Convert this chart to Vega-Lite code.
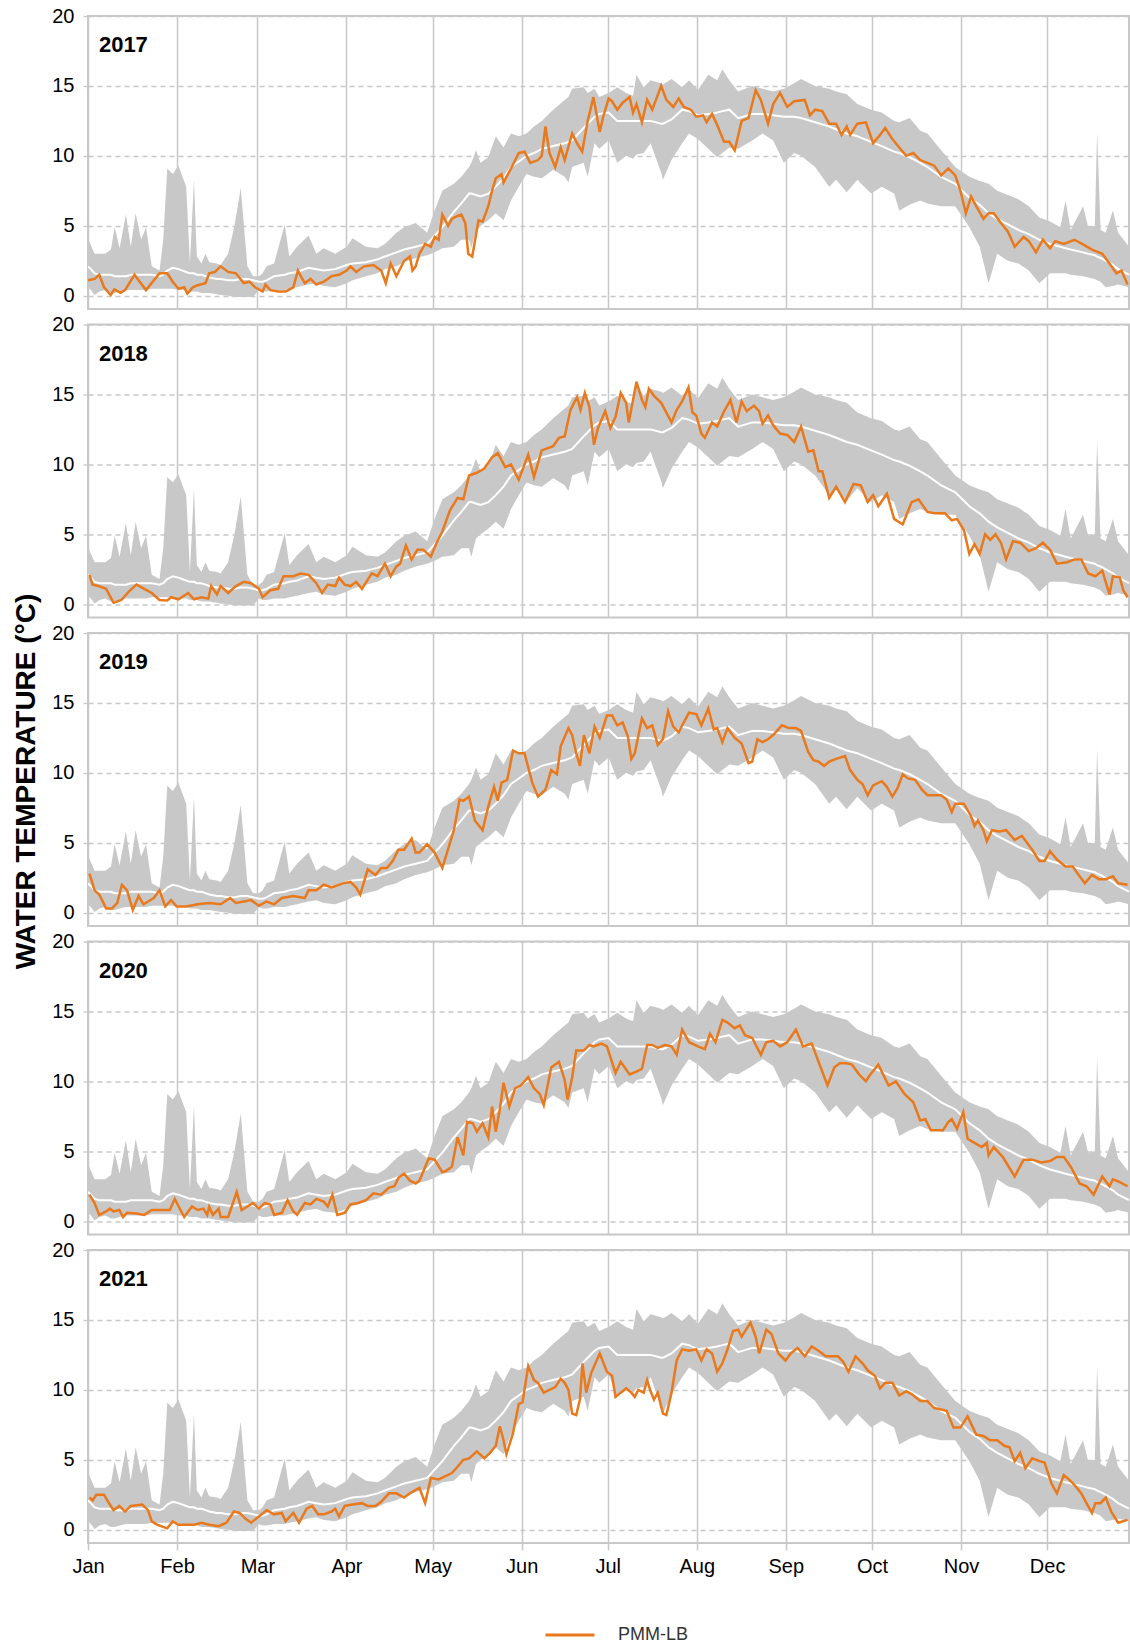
{
"$schema": "https://vega.github.io/schema/vega-lite/v6.json",
"background": "white",
"padding": {"left": 12, "top": 5, "right": 0, "bottom": 4},
"spacing": 15.5,
"bounds": "flush",
"title": {"text": "WATER TEMPERATURE (°C)", "orient": "left", "anchor": "middle", "font": "Liberation Sans", "fontSize": 28, "fontWeight": "bold", "color": "#000", "offset": 10, "dx": 43},
"datasets": {
"clim": [
{"d":0,"hi":4.1,"lo":0.6,"m":2.1},{"d":1,"hi":3.6,"lo":0.4,"m":1.9},{"d":2.3,"hi":3.0,"lo":0.05,"m":1.6},{"d":4,"hi":3.0,"lo":0.3,"m":1.5},{"d":6,"hi":3.0,"lo":0.4,"m":1.5},{"d":8,"hi":3.3,"lo":0.2,"m":1.5},{"d":9.3,"hi":4.9,"lo":0.2,"m":1.4},{"d":11,"hi":3.4,"lo":0.3,"m":1.4},{"d":13.2,"hi":5.8,"lo":0.4,"m":1.4},{"d":14.9,"hi":3.5,"lo":0.4,"m":1.5},{"d":16.6,"hi":5.9,"lo":0.4,"m":1.5},{"d":18.5,"hi":4.0,"lo":0.4,"m":1.5},{"d":20.2,"hi":4.9,"lo":0.4,"m":1.5},{"d":22.2,"hi":2.1,"lo":0.5,"m":1.5},{"d":24.9,"hi":1.8,"lo":0.5,"m":1.4},{"d":26.2,"hi":4.0,"lo":0.5,"m":1.5},{"d":27.6,"hi":9.1,"lo":0.5,"m":1.8},{"d":29.5,"hi":8.7,"lo":0.5,"m":2.0},{"d":31.5,"hi":9.3,"lo":0.4,"m":1.9},{"d":34.2,"hi":7.8,"lo":0.4,"m":1.7},{"d":35.5,"hi":2.3,"lo":0.3,"m":1.6},{"d":36.9,"hi":8.3,"lo":0.3,"m":1.6},{"d":37.9,"hi":2.8,"lo":0.3,"m":1.5},{"d":39.5,"hi":2.3,"lo":0.2,"m":1.5},{"d":40.9,"hi":3.0,"lo":0.2,"m":1.4},{"d":42.2,"hi":2.4,"lo":0.2,"m":1.3},{"d":44.9,"hi":2.3,"lo":0.1,"m":1.2},{"d":46.2,"hi":2.2,"lo":0.05,"m":1.2},{"d":48.8,"hi":3.0,"lo":0,"m":1.1},{"d":51,"hi":5.0,"lo":-0.1,"m":1.1},{"d":53.2,"hi":7.7,"lo":-0.1,"m":1.2},{"d":55.5,"hi":2.1,"lo":-0.1,"m":1.2},{"d":57.5,"hi":1.4,"lo":-0.1,"m":1.1},{"d":59.5,"hi":1.4,"lo":0.4,"m":1.0},{"d":60.8,"hi":1.6,"lo":0.3,"m":1.0},{"d":62.2,"hi":2.1,"lo":0.3,"m":1.1},{"d":64.8,"hi":2.3,"lo":0.4,"m":1.4},{"d":68.5,"hi":5.1,"lo":0.4,"m":1.5},{"d":70.1,"hi":2.8,"lo":0.5,"m":1.6},{"d":72.8,"hi":3.5,"lo":0.6,"m":1.7},{"d":76.8,"hi":4.3,"lo":0.8,"m":2.0},{"d":79.5,"hi":3.0,"lo":0.9,"m":1.9},{"d":82.1,"hi":3.4,"lo":0.7,"m":1.8},{"d":86.1,"hi":3.0,"lo":0.6,"m":1.9},{"d":90.1,"hi":3.5,"lo":0.9,"m":2.2},{"d":92.1,"hi":4.1,"lo":1.1,"m":2.3},{"d":96.8,"hi":3.5,"lo":1.4,"m":2.4},{"d":100.8,"hi":3.4,"lo":1.6,"m":2.6},{"d":103.4,"hi":3.7,"lo":1.9,"m":2.8},{"d":107.4,"hi":4.5,"lo":2.1,"m":3.1},{"d":110.1,"hi":4.9,"lo":2.4,"m":3.3},{"d":114.1,"hi":5.2,"lo":2.7,"m":3.5},{"d":118.1,"hi":4.5,"lo":2.9,"m":3.7},{"d":120.7,"hi":6.1,"lo":3.1,"m":4.3},{"d":123.4,"hi":7.5,"lo":3.4,"m":4.9},{"d":127.4,"hi":8.0,"lo":3.5,"m":6.0},{"d":130,"hi":8.5,"lo":4.0,"m":6.6},{"d":132.7,"hi":9.2,"lo":4.0,"m":7.3},{"d":133.5,"hi":9.5,"lo":3.4,"m":7.3},{"d":135.1,"hi":10.4,"lo":4.7,"m":7.2},{"d":136.7,"hi":9.5,"lo":5.0,"m":7.1},{"d":139.4,"hi":9.9,"lo":5.4,"m":7.3},{"d":142,"hi":11.4,"lo":5.9,"m":7.8},{"d":144.7,"hi":10.6,"lo":5.4,"m":8.4},{"d":147.3,"hi":11.6,"lo":6.8,"m":9.2},{"d":150,"hi":11.4,"lo":7.8,"m":9.6},{"d":152.7,"hi":11.6,"lo":8.7,"m":10.0},{"d":155.3,"hi":12.1,"lo":8.5,"m":10.2},{"d":158,"hi":12.5,"lo":8.4,"m":10.5},{"d":162,"hi":13.3,"lo":9.0,"m":10.7},{"d":166,"hi":14.0,"lo":8.5,"m":10.9},{"d":167.3,"hi":14.2,"lo":8.1,"m":11.0},{"d":168.6,"hi":14.8,"lo":9.2,"m":11.1},{"d":172.6,"hi":14.9,"lo":9.5,"m":12.0},{"d":174,"hi":14.5,"lo":8.5,"m":12.3},{"d":176.4,"hi":14.8,"lo":10.9,"m":12.8},{"d":178,"hi":14.2,"lo":10.5,"m":13.0},{"d":181.3,"hi":14.5,"lo":11.1,"m":13.1},{"d":184.3,"hi":14.9,"lo":9.5,"m":12.5},{"d":187.4,"hi":14.5,"lo":10.0,"m":12.5},{"d":189.8,"hi":14.3,"lo":9.8,"m":12.5},{"d":191,"hi":15.8,"lo":10.1,"m":12.5},{"d":193.5,"hi":14.9,"lo":10.2,"m":12.5},{"d":195.9,"hi":15.4,"lo":10.9,"m":12.5},{"d":199.6,"hi":15.2,"lo":8.8,"m":12.3},{"d":200.2,"hi":15.1,"lo":8.3,"m":12.3},{"d":203.2,"hi":15.5,"lo":9.7,"m":12.6},{"d":206.9,"hi":14.9,"lo":10.9,"m":13.3},{"d":209.3,"hi":15.4,"lo":11.6,"m":13.2},{"d":212.4,"hi":14.7,"lo":11.2,"m":12.9},{"d":216,"hi":15.8,"lo":10.5,"m":13.0},{"d":219.1,"hi":15.4,"lo":9.9,"m":13.1},{"d":220.9,"hi":16.2,"lo":10.2,"m":13.2},{"d":223.3,"hi":15.4,"lo":10.6,"m":13.3},{"d":226.4,"hi":14.6,"lo":10.5,"m":12.7},{"d":231.3,"hi":15.0,"lo":11.1,"m":13.0},{"d":234.9,"hi":14.8,"lo":11.6,"m":13.0},{"d":238.6,"hi":14.6,"lo":11.1,"m":12.9},{"d":242.3,"hi":14.8,"lo":9.5,"m":12.8},{"d":245.9,"hi":15.2,"lo":10.2,"m":12.8},{"d":248.3,"hi":15.5,"lo":10.0,"m":12.7},{"d":253.2,"hi":15.0,"lo":9.2,"m":12.4},{"d":258.1,"hi":14.8,"lo":7.8,"m":12.1},{"d":260.5,"hi":14.6,"lo":8.3,"m":11.9},{"d":264.2,"hi":14.4,"lo":7.4,"m":11.6},{"d":267.9,"hi":13.7,"lo":8.3,"m":11.4},{"d":272.7,"hi":13.3,"lo":7.3,"m":11.0},{"d":276.4,"hi":13.1,"lo":7.8,"m":10.7},{"d":280.7,"hi":12.5,"lo":7.3,"m":10.3},{"d":282.5,"hi":12.4,"lo":6.1,"m":10.2},{"d":286.1,"hi":12.7,"lo":6.5,"m":9.9},{"d":289.8,"hi":11.8,"lo":6.8,"m":9.5},{"d":292.3,"hi":11.6,"lo":6.6,"m":9.2},{"d":297.1,"hi":10.4,"lo":6.4,"m":8.5},{"d":302,"hi":9.2,"lo":6.4,"m":8.0},{"d":306.9,"hi":8.5,"lo":4.9,"m":7.0},{"d":310.5,"hi":8.2,"lo":3.5,"m":6.5},{"d":313.6,"hi":8.0,"lo":0.9,"m":5.9},{"d":316.6,"hi":7.5,"lo":3.0,"m":5.5},{"d":320.3,"hi":7.2,"lo":2.5,"m":5.1},{"d":324,"hi":6.9,"lo":2.3,"m":4.7},{"d":327.6,"hi":6.4,"lo":1.8,"m":4.4},{"d":331.3,"hi":5.6,"lo":0.9,"m":4.0},{"d":335,"hi":5.3,"lo":1.6,"m":3.7},{"d":338.6,"hi":4.9,"lo":1.6,"m":3.5},{"d":340.4,"hi":6.8,"lo":1.6,"m":3.4},{"d":342.2,"hi":4.7,"lo":1.5,"m":3.3},{"d":346.5,"hi":6.4,"lo":1.4,"m":3.1},{"d":348.3,"hi":4.9,"lo":1.3,"m":3.0},{"d":350.6,"hi":5.0,"lo":1.2,"m":2.9},{"d":351.4,"hi":11.7,"lo":1.1,"m":2.8},{"d":352.6,"hi":4.7,"lo":1.0,"m":2.7},{"d":354.4,"hi":4.5,"lo":0.6,"m":2.5},{"d":356.9,"hi":6.1,"lo":0.7,"m":2.2},{"d":358.7,"hi":4.5,"lo":0.8,"m":1.9},{"d":362.5,"hi":3.5,"lo":0.6,"m":1.5}
],
"o2017": [
{"d":0,"t":1.1},{"d":2.3,"t":1.2},{"d":3.9,"t":1.5},{"d":5.6,"t":0.6},{"d":7.9,"t":0.05},{"d":9.2,"t":0.45},{"d":11.3,"t":0.2},{"d":12.9,"t":0.4},{"d":16.2,"t":1.5},{"d":18,"t":1.0},{"d":20.2,"t":0.4},{"d":22.5,"t":1.0},{"d":24.9,"t":1.6},{"d":27.6,"t":1.6},{"d":29.5,"t":1.0},{"d":31.5,"t":0.5},{"d":33.5,"t":0.6},{"d":34.6,"t":0.15},{"d":36.5,"t":0.6},{"d":38.2,"t":0.75},{"d":40.9,"t":0.9},{"d":42.2,"t":1.6},{"d":44.2,"t":1.7},{"d":46.2,"t":2.1},{"d":48.8,"t":1.7},{"d":51.5,"t":1.6},{"d":54.2,"t":0.9},{"d":56.2,"t":1.0},{"d":58.2,"t":0.6},{"d":60.8,"t":0.3},{"d":61.8,"t":0.8},{"d":63.5,"t":0.4},{"d":66.2,"t":0.3},{"d":68.8,"t":0.3},{"d":71.5,"t":0.6},{"d":73.1,"t":1.8},{"d":74.1,"t":1.4},{"d":75.5,"t":0.9},{"d":77.5,"t":1.2},{"d":79.5,"t":0.8},{"d":82.1,"t":1.0},{"d":84.8,"t":1.4},{"d":87.4,"t":1.5},{"d":90.1,"t":1.8},{"d":91.4,"t":2.1},{"d":93.4,"t":1.7},{"d":96.1,"t":2.1},{"d":99.4,"t":2.2},{"d":102.1,"t":1.8},{"d":103.7,"t":0.9},{"d":105.4,"t":2.3},{"d":107.4,"t":1.4},{"d":110.1,"t":2.5},{"d":112.1,"t":2.8},{"d":113,"t":1.8},{"d":114.1,"t":2.1},{"d":115.4,"t":3.0},{"d":117.4,"t":3.7},{"d":119.4,"t":3.5},{"d":120.7,"t":4.2},{"d":122.1,"t":4.0},{"d":123.4,"t":5.8},{"d":125.4,"t":5.0},{"d":126.7,"t":5.5},{"d":128.7,"t":5.7},{"d":130,"t":5.8},{"d":131.4,"t":5.2},{"d":132.4,"t":3.0},{"d":133.8,"t":2.8},{"d":136,"t":5.4},{"d":137.4,"t":5.3},{"d":139.4,"t":6.4},{"d":140.7,"t":7.5},{"d":142,"t":8.4},{"d":144,"t":8.7},{"d":144.7,"t":8.1},{"d":147.3,"t":9.1},{"d":150,"t":10.2},{"d":152,"t":10.3},{"d":154,"t":9.5},{"d":156.7,"t":9.7},{"d":158,"t":10.0},{"d":159.3,"t":12.1},{"d":160.7,"t":10.2},{"d":162.7,"t":9.2},{"d":164.6,"t":10.6},{"d":166,"t":9.7},{"d":168.6,"t":11.6},{"d":170.3,"t":10.9},{"d":172.1,"t":10.3},{"d":174,"t":12.5},{"d":176,"t":14.2},{"d":178.2,"t":11.7},{"d":179.4,"t":12.8},{"d":181.3,"t":14.1},{"d":182.5,"t":13.9},{"d":184.3,"t":13.3},{"d":186.2,"t":13.8},{"d":188.6,"t":14.2},{"d":189.8,"t":13.1},{"d":191,"t":13.7},{"d":192.9,"t":12.4},{"d":194.7,"t":14.0},{"d":196.5,"t":13.3},{"d":199.6,"t":15.0},{"d":201.4,"t":14.0},{"d":203.8,"t":13.5},{"d":205.7,"t":14.1},{"d":207.5,"t":13.5},{"d":209.9,"t":13.3},{"d":211.8,"t":12.8},{"d":214.2,"t":12.9},{"d":215.4,"t":12.4},{"d":217.3,"t":13.0},{"d":219.1,"t":12.2},{"d":221.5,"t":11.0},{"d":223.3,"t":11.0},{"d":225.2,"t":10.4},{"d":227.6,"t":12.5},{"d":230,"t":12.7},{"d":232.5,"t":14.7},{"d":234.3,"t":14.0},{"d":236.8,"t":12.3},{"d":238.6,"t":13.7},{"d":241,"t":14.5},{"d":243.5,"t":13.5},{"d":245.9,"t":13.9},{"d":249.6,"t":14.0},{"d":251.4,"t":12.9},{"d":253.2,"t":13.3},{"d":255.7,"t":13.2},{"d":258.1,"t":12.3},{"d":260.5,"t":12.3},{"d":262.4,"t":11.5},{"d":264.2,"t":12.1},{"d":265.4,"t":11.5},{"d":267.9,"t":12.3},{"d":270.9,"t":12.4},{"d":273.4,"t":10.9},{"d":275.8,"t":11.5},{"d":277.6,"t":12.0},{"d":280.1,"t":11.2},{"d":282.5,"t":10.6},{"d":284.9,"t":10.0},{"d":287.4,"t":10.2},{"d":289.8,"t":9.7},{"d":292.3,"t":9.5},{"d":294.7,"t":9.3},{"d":297.1,"t":8.6},{"d":299.6,"t":9.1},{"d":302,"t":8.6},{"d":303.8,"t":7.5},{"d":305.7,"t":5.9},{"d":307.5,"t":7.1},{"d":309.3,"t":6.4},{"d":311.8,"t":5.5},{"d":313.6,"t":5.9},{"d":315.4,"t":5.9},{"d":317.9,"t":5.2},{"d":320.3,"t":4.6},{"d":322.7,"t":3.5},{"d":325.8,"t":4.2},{"d":327.6,"t":3.9},{"d":330.1,"t":3.1},{"d":332.5,"t":4.0},{"d":335,"t":3.4},{"d":336.8,"t":3.9},{"d":339.8,"t":3.7},{"d":343.5,"t":4.0},{"d":347.1,"t":3.6},{"d":349.6,"t":3.3},{"d":353.2,"t":3.0},{"d":355.7,"t":2.3},{"d":358.1,"t":1.6},{"d":359.9,"t":1.8},{"d":362,"t":0.8}
],
"o2018": [
{"d":0.5,"t":2.1},{"d":1.6,"t":1.4},{"d":3.6,"t":1.3},{"d":6.3,"t":1.1},{"d":8.9,"t":0.1},{"d":11.6,"t":0.3},{"d":14.2,"t":0.9},{"d":16.9,"t":1.4},{"d":19.6,"t":1.1},{"d":22.2,"t":0.8},{"d":24.9,"t":0.3},{"d":27.6,"t":0.26},{"d":28.9,"t":0.5},{"d":31.5,"t":0.35},{"d":34.9,"t":0.8},{"d":36.9,"t":0.35},{"d":39.5,"t":0.5},{"d":41.9,"t":0.4},{"d":42.9,"t":1.3},{"d":44.9,"t":0.7},{"d":46.2,"t":1.3},{"d":48.8,"t":0.8},{"d":51.5,"t":1.3},{"d":54.2,"t":1.6},{"d":56.8,"t":1.5},{"d":59.5,"t":1.1},{"d":60.8,"t":0.5},{"d":63.5,"t":1.0},{"d":66.2,"t":1.1},{"d":68.1,"t":2.0},{"d":71.5,"t":2.0},{"d":74.1,"t":2.2},{"d":76.8,"t":2.1},{"d":79.5,"t":1.5},{"d":81.5,"t":0.8},{"d":83.5,"t":1.4},{"d":86.1,"t":1.3},{"d":87.4,"t":1.9},{"d":89.4,"t":1.4},{"d":91.4,"t":1.3},{"d":93.4,"t":1.6},{"d":95.4,"t":1.1},{"d":98.8,"t":2.2},{"d":100.8,"t":2.0},{"d":103.4,"t":2.9},{"d":105.4,"t":2.0},{"d":107.4,"t":2.7},{"d":108.7,"t":2.9},{"d":110.7,"t":4.2},{"d":112.7,"t":3.2},{"d":114.7,"t":3.9},{"d":116.7,"t":3.9},{"d":119.4,"t":3.4},{"d":121.4,"t":4.4},{"d":123.4,"t":5.2},{"d":126,"t":6.7},{"d":128.7,"t":7.6},{"d":130.7,"t":7.5},{"d":132.7,"t":9.2},{"d":135.4,"t":9.4},{"d":138,"t":9.7},{"d":140.7,"t":10.5},{"d":142.7,"t":10.8},{"d":145.3,"t":9.8},{"d":147.3,"t":10.0},{"d":150,"t":8.9},{"d":153.3,"t":10.7},{"d":155.3,"t":9.1},{"d":158,"t":11.0},{"d":162,"t":11.3},{"d":164,"t":11.9},{"d":166,"t":12.0},{"d":168,"t":13.9},{"d":170.3,"t":14.8},{"d":171.5,"t":13.9},{"d":173,"t":15.1},{"d":174.6,"t":14.1},{"d":176.2,"t":11.4},{"d":177.6,"t":12.6},{"d":180.1,"t":13.8},{"d":181.9,"t":12.6},{"d":183.7,"t":13.4},{"d":185.5,"t":15.1},{"d":187.4,"t":14.4},{"d":188.3,"t":13.0},{"d":189.8,"t":14.6},{"d":191,"t":15.9},{"d":192.9,"t":14.6},{"d":194.1,"t":14.1},{"d":195.3,"t":15.4},{"d":197.1,"t":14.9},{"d":199.6,"t":14.4},{"d":201.4,"t":13.7},{"d":203.2,"t":13.0},{"d":205,"t":13.9},{"d":206.9,"t":14.5},{"d":209.1,"t":15.5},{"d":210.5,"t":13.7},{"d":211.8,"t":13.5},{"d":213.6,"t":12.2},{"d":214.8,"t":11.9},{"d":217.3,"t":13.0},{"d":219.1,"t":12.7},{"d":221.5,"t":13.8},{"d":223.7,"t":14.6},{"d":225.8,"t":13.0},{"d":227.6,"t":14.5},{"d":229.4,"t":13.8},{"d":231.9,"t":14.2},{"d":233.7,"t":13.8},{"d":234.9,"t":12.9},{"d":236.8,"t":13.5},{"d":238.6,"t":12.8},{"d":241,"t":12.2},{"d":243.5,"t":12.1},{"d":245.9,"t":11.6},{"d":248.3,"t":12.7},{"d":250.8,"t":10.9},{"d":252.6,"t":11.0},{"d":254.4,"t":9.5},{"d":255.7,"t":9.5},{"d":258.1,"t":7.6},{"d":260.5,"t":8.4},{"d":263.6,"t":7.3},{"d":266.6,"t":8.6},{"d":269.1,"t":8.5},{"d":271.5,"t":7.3},{"d":273.4,"t":7.8},{"d":275.2,"t":7.0},{"d":278.2,"t":7.9},{"d":280.7,"t":6.1},{"d":283.7,"t":5.7},{"d":286.8,"t":7.3},{"d":289.2,"t":7.5},{"d":292.3,"t":6.6},{"d":294.7,"t":6.5},{"d":298.4,"t":6.5},{"d":300.8,"t":6.0},{"d":302.6,"t":6.1},{"d":305,"t":5.3},{"d":306.9,"t":3.6},{"d":308.7,"t":4.3},{"d":310.5,"t":3.6},{"d":312.4,"t":5.0},{"d":314.2,"t":4.6},{"d":316,"t":5.0},{"d":317.9,"t":4.4},{"d":319.7,"t":3.2},{"d":322.1,"t":4.5},{"d":324.6,"t":4.4},{"d":327.6,"t":3.8},{"d":330.1,"t":4.0},{"d":332.5,"t":4.4},{"d":335,"t":3.9},{"d":337.4,"t":2.9},{"d":341,"t":3.0},{"d":343.5,"t":3.2},{"d":345.9,"t":3.2},{"d":348.3,"t":2.2},{"d":350.8,"t":2.0},{"d":353.2,"t":2.4},{"d":355.7,"t":0.7},{"d":356.9,"t":2.0},{"d":359.3,"t":1.9},{"d":360.5,"t":1.0},{"d":362,"t":0.5}
],
"o2019": [
{"d":0.5,"t":2.8},{"d":2.3,"t":1.6},{"d":3.9,"t":1.3},{"d":4.9,"t":0.9},{"d":6.3,"t":0.3},{"d":8.3,"t":0.3},{"d":10.2,"t":0.7},{"d":11.8,"t":2.0},{"d":13.6,"t":1.6},{"d":15.6,"t":0.2},{"d":17.6,"t":1.2},{"d":19.3,"t":0.6},{"d":20.9,"t":0.8},{"d":22.9,"t":1.05},{"d":24.9,"t":1.6},{"d":26.9,"t":0.45},{"d":28.9,"t":0.9},{"d":30.9,"t":0.45},{"d":34.2,"t":0.45},{"d":38.2,"t":0.6},{"d":42.2,"t":0.7},{"d":46.2,"t":0.6},{"d":49.5,"t":1.05},{"d":51.5,"t":0.7},{"d":54.2,"t":0.8},{"d":56.8,"t":0.9},{"d":59.5,"t":0.5},{"d":62.2,"t":0.8},{"d":64.8,"t":0.6},{"d":67.5,"t":1.05},{"d":71.5,"t":1.2},{"d":75.5,"t":1.05},{"d":76.8,"t":1.6},{"d":79.5,"t":1.6},{"d":82.1,"t":2.0},{"d":84.8,"t":1.8},{"d":88.8,"t":2.1},{"d":91.4,"t":2.2},{"d":93.4,"t":1.8},{"d":94.8,"t":1.3},{"d":97.4,"t":3.1},{"d":100.1,"t":2.7},{"d":102.1,"t":3.2},{"d":104.1,"t":3.2},{"d":106.1,"t":3.7},{"d":108.1,"t":4.5},{"d":110.1,"t":4.5},{"d":112.7,"t":5.3},{"d":114.1,"t":4.3},{"d":115.4,"t":4.3},{"d":118.1,"t":4.9},{"d":120.7,"t":4.3},{"d":123.4,"t":3.2},{"d":127.4,"t":5.9},{"d":129.4,"t":8.1},{"d":130.7,"t":8.0},{"d":132.7,"t":8.3},{"d":134.7,"t":6.6},{"d":137.4,"t":5.9},{"d":139.4,"t":7.6},{"d":141.4,"t":9.0},{"d":142.7,"t":8.0},{"d":144,"t":9.3},{"d":146,"t":9.5},{"d":148,"t":11.6},{"d":150,"t":11.4},{"d":152,"t":11.4},{"d":154.7,"t":9.3},{"d":156.7,"t":8.3},{"d":159.3,"t":8.8},{"d":161.3,"t":10.2},{"d":163.3,"t":9.9},{"d":164.6,"t":11.9},{"d":167.3,"t":13.2},{"d":168.6,"t":12.7},{"d":170,"t":11.4},{"d":171.3,"t":10.5},{"d":172.7,"t":12.7},{"d":174.6,"t":11.4},{"d":176.4,"t":13.3},{"d":178.2,"t":12.5},{"d":180.7,"t":14.1},{"d":182.5,"t":14.1},{"d":184.3,"t":13.4},{"d":186.2,"t":13.6},{"d":188,"t":12.6},{"d":189.2,"t":11.0},{"d":190.4,"t":11.4},{"d":192.9,"t":13.9},{"d":194.7,"t":13.2},{"d":196.5,"t":13.4},{"d":198.4,"t":12.0},{"d":200.2,"t":12.4},{"d":202,"t":14.4},{"d":203.8,"t":13.3},{"d":205.7,"t":12.9},{"d":206.9,"t":13.4},{"d":209.3,"t":14.3},{"d":211.8,"t":14.2},{"d":213.6,"t":13.4},{"d":216,"t":14.6},{"d":217.9,"t":13.1},{"d":219.1,"t":13.2},{"d":220.9,"t":12.2},{"d":222.7,"t":13.2},{"d":225.2,"t":12.5},{"d":227.6,"t":12.1},{"d":230,"t":10.7},{"d":231.3,"t":10.8},{"d":233.1,"t":12.4},{"d":234.9,"t":12.2},{"d":236.8,"t":12.4},{"d":238.6,"t":12.7},{"d":241.6,"t":13.4},{"d":244.1,"t":13.2},{"d":246.5,"t":13.2},{"d":248.3,"t":13.0},{"d":250.8,"t":11.5},{"d":252.6,"t":10.9},{"d":254.4,"t":10.8},{"d":256.3,"t":10.5},{"d":258.1,"t":10.8},{"d":260.5,"t":11.0},{"d":263.6,"t":11.2},{"d":265.4,"t":10.2},{"d":267.9,"t":9.5},{"d":269.7,"t":9.2},{"d":271.5,"t":8.4},{"d":273.4,"t":9.1},{"d":276.4,"t":9.4},{"d":278.2,"t":9.0},{"d":280.1,"t":8.3},{"d":281.9,"t":8.9},{"d":283.7,"t":9.9},{"d":285.5,"t":9.6},{"d":288,"t":9.5},{"d":290.4,"t":8.8},{"d":292.3,"t":8.4},{"d":294.7,"t":8.4},{"d":297.1,"t":8.4},{"d":299,"t":8.1},{"d":300.8,"t":7.2},{"d":302,"t":7.8},{"d":305,"t":7.8},{"d":307.5,"t":6.9},{"d":308.7,"t":6.2},{"d":309.9,"t":6.6},{"d":311.8,"t":5.9},{"d":313,"t":5.1},{"d":314.8,"t":5.9},{"d":317.3,"t":5.8},{"d":319.7,"t":5.9},{"d":322.7,"t":5.2},{"d":325.2,"t":5.5},{"d":328.8,"t":4.5},{"d":331.3,"t":3.7},{"d":333.1,"t":3.7},{"d":335,"t":4.4},{"d":337.4,"t":3.8},{"d":340.4,"t":3.3},{"d":342.9,"t":3.3},{"d":345.3,"t":2.6},{"d":347.1,"t":2.1},{"d":349.6,"t":2.7},{"d":352,"t":2.4},{"d":354.4,"t":2.4},{"d":356.9,"t":2.6},{"d":358.7,"t":2.1},{"d":362,"t":2.0}
],
"o2020": [
{"d":0.5,"t":1.9},{"d":2.3,"t":1.3},{"d":3.9,"t":0.45},{"d":6.3,"t":0.7},{"d":7.6,"t":0.9},{"d":8.9,"t":0.7},{"d":10.9,"t":0.8},{"d":12.2,"t":0.3},{"d":13.6,"t":0.6},{"d":16.9,"t":0.55},{"d":19.6,"t":0.45},{"d":22.2,"t":0.8},{"d":26.2,"t":0.8},{"d":28.5,"t":0.8},{"d":30.2,"t":1.6},{"d":32.2,"t":0.8},{"d":33.5,"t":0.3},{"d":36.2,"t":1.05},{"d":38.2,"t":0.8},{"d":40.2,"t":0.9},{"d":41.5,"t":0.45},{"d":42.2,"t":1.05},{"d":43.5,"t":0.45},{"d":45.5,"t":0.9},{"d":46.2,"t":0.3},{"d":48.8,"t":0.3},{"d":51.8,"t":2.1},{"d":53.5,"t":0.8},{"d":55.5,"t":1.05},{"d":57.5,"t":1.3},{"d":59.5,"t":0.9},{"d":61.5,"t":1.3},{"d":63.5,"t":1.2},{"d":64.8,"t":0.45},{"d":67.5,"t":0.6},{"d":69.5,"t":1.5},{"d":71.5,"t":0.7},{"d":72.8,"t":0.45},{"d":75.5,"t":1.3},{"d":77.5,"t":1.2},{"d":79.5,"t":1.6},{"d":82.1,"t":1.4},{"d":83.5,"t":1.05},{"d":85.1,"t":1.9},{"d":86.8,"t":0.45},{"d":89.4,"t":0.6},{"d":91.4,"t":1.2},{"d":94.1,"t":1.3},{"d":96.8,"t":1.5},{"d":99.4,"t":2.0},{"d":102.1,"t":1.9},{"d":104.8,"t":2.4},{"d":106.7,"t":2.5},{"d":108.1,"t":3.1},{"d":110.1,"t":3.4},{"d":112.1,"t":2.9},{"d":114.1,"t":2.7},{"d":115.4,"t":2.9},{"d":118.7,"t":4.5},{"d":120.7,"t":4.4},{"d":123.4,"t":3.5},{"d":124.7,"t":3.6},{"d":126.7,"t":3.9},{"d":128.7,"t":6.0},{"d":130.7,"t":4.7},{"d":132,"t":7.1},{"d":134,"t":7.0},{"d":135.4,"t":6.4},{"d":137.4,"t":7.0},{"d":139.4,"t":6.0},{"d":140.7,"t":8.2},{"d":142,"t":6.4},{"d":143.4,"t":8.0},{"d":144.7,"t":9.9},{"d":146.7,"t":8.2},{"d":148.7,"t":9.5},{"d":150.7,"t":9.7},{"d":153.3,"t":10.3},{"d":155.3,"t":9.5},{"d":157.3,"t":9.1},{"d":158.7,"t":8.3},{"d":161.3,"t":11.0},{"d":164,"t":11.4},{"d":166,"t":10.1},{"d":167,"t":8.7},{"d":168.6,"t":10.3},{"d":170,"t":12.2},{"d":172.6,"t":12.2},{"d":174.6,"t":12.6},{"d":176,"t":12.5},{"d":178.8,"t":12.7},{"d":180.7,"t":12.5},{"d":183.7,"t":10.6},{"d":185.5,"t":11.4},{"d":188.6,"t":10.5},{"d":191,"t":10.7},{"d":192.9,"t":10.9},{"d":194.7,"t":12.6},{"d":196.5,"t":12.6},{"d":198.4,"t":12.4},{"d":200.8,"t":12.6},{"d":203.2,"t":12.5},{"d":205,"t":11.9},{"d":206.9,"t":13.7},{"d":209.3,"t":12.8},{"d":212.4,"t":12.5},{"d":214.8,"t":12.3},{"d":216.6,"t":13.4},{"d":218.5,"t":12.8},{"d":220.9,"t":14.4},{"d":222.7,"t":14.2},{"d":225.2,"t":13.8},{"d":227,"t":14.0},{"d":228.8,"t":13.3},{"d":231.3,"t":13.1},{"d":234.3,"t":11.9},{"d":236.2,"t":12.8},{"d":238.6,"t":12.9},{"d":241,"t":12.5},{"d":243.5,"t":12.8},{"d":246.5,"t":13.7},{"d":249,"t":12.5},{"d":252,"t":12.7},{"d":254.4,"t":11.4},{"d":257.5,"t":9.7},{"d":259.9,"t":11.0},{"d":261.8,"t":11.3},{"d":264.2,"t":11.3},{"d":266,"t":11.2},{"d":268.5,"t":10.5},{"d":270.9,"t":10.0},{"d":272.1,"t":10.4},{"d":275.2,"t":11.2},{"d":278.8,"t":9.7},{"d":281.3,"t":10.0},{"d":284.3,"t":9.1},{"d":287.4,"t":8.5},{"d":289.8,"t":7.2},{"d":291.6,"t":7.3},{"d":293.5,"t":6.5},{"d":295.9,"t":6.5},{"d":297.7,"t":6.5},{"d":299.6,"t":7.1},{"d":300.8,"t":7.3},{"d":302.6,"t":6.6},{"d":304.8,"t":7.8},{"d":306.3,"t":5.9},{"d":308.7,"t":5.6},{"d":311.2,"t":5.3},{"d":313,"t":5.6},{"d":313.6,"t":4.7},{"d":315.4,"t":5.3},{"d":318.5,"t":4.6},{"d":320.3,"t":4.0},{"d":322.7,"t":3.2},{"d":325.8,"t":4.4},{"d":328.8,"t":4.4},{"d":331.9,"t":4.2},{"d":335,"t":4.3},{"d":337.4,"t":4.6},{"d":339.8,"t":4.6},{"d":342.2,"t":3.9},{"d":345.3,"t":2.7},{"d":347.7,"t":2.5},{"d":350.2,"t":1.9},{"d":353.2,"t":3.2},{"d":355.7,"t":2.5},{"d":356.9,"t":3.0},{"d":359.3,"t":2.8},{"d":362,"t":2.5}
],
"o2021": [
{"d":0.5,"t":2.3},{"d":1.6,"t":2.1},{"d":2.9,"t":2.5},{"d":5.6,"t":2.5},{"d":7.6,"t":1.8},{"d":8.9,"t":1.4},{"d":10.9,"t":1.7},{"d":12.9,"t":1.3},{"d":14.9,"t":1.7},{"d":16.9,"t":1.75},{"d":18.9,"t":1.8},{"d":20.9,"t":1.4},{"d":22.2,"t":0.6},{"d":24.2,"t":0.35},{"d":27.6,"t":0.1},{"d":29.5,"t":0.6},{"d":31.5,"t":0.35},{"d":34.2,"t":0.35},{"d":36.9,"t":0.35},{"d":39.5,"t":0.5},{"d":42.2,"t":0.35},{"d":45.5,"t":0.25},{"d":48.2,"t":0.5},{"d":50.8,"t":1.3},{"d":52.8,"t":1.2},{"d":54.8,"t":0.8},{"d":56.8,"t":0.5},{"d":59.5,"t":0.95},{"d":62.2,"t":1.4},{"d":64.8,"t":1.1},{"d":67.5,"t":1.2},{"d":68.8,"t":0.6},{"d":71.5,"t":1.2},{"d":73.5,"t":0.5},{"d":76.1,"t":1.5},{"d":78.1,"t":1.7},{"d":80.1,"t":1.1},{"d":82.1,"t":1.1},{"d":84.8,"t":1.3},{"d":86.1,"t":1.5},{"d":87.4,"t":0.95},{"d":89.4,"t":1.7},{"d":92.1,"t":1.8},{"d":95.4,"t":1.9},{"d":97.4,"t":1.7},{"d":100.1,"t":1.7},{"d":102.1,"t":2.0},{"d":104.8,"t":2.6},{"d":107.4,"t":2.6},{"d":110.1,"t":2.3},{"d":112.1,"t":2.6},{"d":115.4,"t":3.0},{"d":117.4,"t":1.9},{"d":119.4,"t":3.7},{"d":122.1,"t":3.6},{"d":124.1,"t":3.8},{"d":126.7,"t":4.05},{"d":128.7,"t":4.5},{"d":130.7,"t":5.0},{"d":132.7,"t":5.1},{"d":135.4,"t":5.6},{"d":138,"t":5.1},{"d":140,"t":5.5},{"d":142,"t":6.0},{"d":143.4,"t":7.4},{"d":144.7,"t":6.4},{"d":145.7,"t":5.4},{"d":148,"t":6.9},{"d":150,"t":9.0},{"d":151.3,"t":9.1},{"d":153.3,"t":11.7},{"d":155.3,"t":10.7},{"d":156.7,"t":10.5},{"d":158.7,"t":9.8},{"d":160.7,"t":10.0},{"d":162.7,"t":10.2},{"d":164.6,"t":10.8},{"d":166,"t":10.5},{"d":167.3,"t":10.0},{"d":168.6,"t":8.3},{"d":170,"t":8.2},{"d":171.3,"t":9.3},{"d":172.2,"t":11.9},{"d":173.5,"t":9.8},{"d":175.2,"t":11.2},{"d":178.2,"t":12.6},{"d":180.7,"t":11.3},{"d":182.5,"t":11.0},{"d":183.7,"t":9.5},{"d":185.5,"t":9.8},{"d":187.4,"t":10.1},{"d":189.2,"t":9.8},{"d":190.4,"t":9.5},{"d":191.6,"t":10.0},{"d":193.5,"t":9.8},{"d":194.7,"t":10.7},{"d":195.9,"t":9.9},{"d":197.1,"t":9.3},{"d":198.4,"t":9.8},{"d":200.2,"t":8.3},{"d":201.4,"t":8.2},{"d":203.2,"t":9.8},{"d":205,"t":12.1},{"d":206.9,"t":12.9},{"d":209.3,"t":12.8},{"d":211.8,"t":12.9},{"d":213.6,"t":12.1},{"d":215.4,"t":12.9},{"d":217.3,"t":12.6},{"d":219.1,"t":11.3},{"d":220.9,"t":11.9},{"d":222.7,"t":12.9},{"d":224.6,"t":14.2},{"d":226.4,"t":14.3},{"d":227.6,"t":13.8},{"d":229.4,"t":14.4},{"d":230.7,"t":14.8},{"d":232.5,"t":13.8},{"d":233.7,"t":12.6},{"d":236.2,"t":14.3},{"d":238,"t":14.0},{"d":240.4,"t":12.6},{"d":242.9,"t":12.1},{"d":244.7,"t":12.6},{"d":247.1,"t":13.0},{"d":249.6,"t":12.4},{"d":252,"t":13.1},{"d":254.4,"t":12.8},{"d":256.9,"t":12.4},{"d":259.3,"t":12.4},{"d":261.2,"t":12.4},{"d":263,"t":12.0},{"d":264.8,"t":11.3},{"d":267.3,"t":12.4},{"d":269.7,"t":11.9},{"d":271.5,"t":11.4},{"d":274,"t":11.0},{"d":275.8,"t":10.1},{"d":277.6,"t":10.5},{"d":280.1,"t":10.5},{"d":282.5,"t":9.6},{"d":284.9,"t":9.9},{"d":286.8,"t":9.7},{"d":289.8,"t":9.2},{"d":292.3,"t":9.2},{"d":294.7,"t":8.7},{"d":297.1,"t":8.6},{"d":299,"t":8.5},{"d":301.4,"t":7.3},{"d":303.8,"t":7.3},{"d":306.3,"t":8.1},{"d":309.3,"t":6.8},{"d":311.8,"t":6.7},{"d":314.2,"t":6.4},{"d":316.6,"t":6.4},{"d":319.1,"t":6.0},{"d":320.9,"t":5.9},{"d":322.7,"t":4.9},{"d":324.6,"t":5.5},{"d":326.4,"t":4.4},{"d":328.8,"t":5.1},{"d":331.3,"t":4.9},{"d":333.1,"t":4.8},{"d":335.5,"t":3.3},{"d":337.4,"t":2.6},{"d":339.8,"t":3.9},{"d":341.6,"t":3.6},{"d":343.5,"t":3.2},{"d":345.9,"t":2.6},{"d":347.7,"t":1.9},{"d":349.6,"t":1.2},{"d":350.8,"t":1.9},{"d":352.6,"t":1.9},{"d":354.4,"t":2.3},{"d":356.3,"t":1.3},{"d":358.7,"t":0.5},{"d":362,"t":0.7}
]
},
"vconcat": [
{"width": 1041, "height": 293,
 "layer": [
  {"data": {"name": "clim"}, "mark": {"type": "area", "color": "#C8C8C8", "clip": true}, "encoding": {"x": {"field": "d", "type": "quantitative", "title": null, "scale": {"domain": [0, 362.5], "nice": false, "zero": false}, "axis": {"values": [0,31,59,90,120,151,181,212,243,273,304,334], "labels": false, "ticks": false}}, "y": {"field": "hi", "type": "quantitative", "title": null, "scale": {"domain": [-0.95, 20], "nice": false, "zero": false}, "axis": {"values": [0,5,10,15,20]}}, "y2": {"field": "lo"}}},
  {"data": {"name": "clim"}, "mark": {"type": "line", "color": "#FFFFFF", "strokeWidth": 2, "clip": true}, "encoding": {"x": {"field": "d", "type": "quantitative", "title": null}, "y": {"field": "m", "type": "quantitative", "title": null}}},
  {"data": {"name": "o2017"}, "mark": {"type": "line", "strokeWidth": 2.5, "clip": true}, "encoding": {"x": {"field": "d", "type": "quantitative", "title": null}, "y": {"field": "t", "type": "quantitative", "title": null}, "color": {"datum": "PMM-LB", "type": "nominal", "scale": {"domain": ["PMM-LB"], "range": ["#E8791D"]}, "legend": {"title": null, "orient": "none", "legendX": 456, "legendY": 1593}}}},
  {"data": {"values": [{"lab": "2017"}]}, "mark": {"type": "text", "font": "Liberation Sans", "fontSize": 22, "fontWeight": "bold", "align": "left", "baseline": "alphabetic", "color": "#000"}, "encoding": {"x": {"datum": 3.8, "type": "quantitative"}, "y": {"datum": 17.4, "type": "quantitative"}, "text": {"field": "lab"}}}
 ]},
{"width": 1041, "height": 293,
 "layer": [
  {"data": {"name": "clim"}, "mark": {"type": "area", "color": "#C8C8C8", "clip": true}, "encoding": {"x": {"field": "d", "type": "quantitative", "title": null, "scale": {"domain": [0, 362.5], "nice": false, "zero": false}, "axis": {"values": [0,31,59,90,120,151,181,212,243,273,304,334], "labels": false, "ticks": false}}, "y": {"field": "hi", "type": "quantitative", "title": null, "scale": {"domain": [-0.95, 20], "nice": false, "zero": false}, "axis": {"values": [0,5,10,15,20]}}, "y2": {"field": "lo"}}},
  {"data": {"name": "clim"}, "mark": {"type": "line", "color": "#FFFFFF", "strokeWidth": 2, "clip": true}, "encoding": {"x": {"field": "d", "type": "quantitative", "title": null}, "y": {"field": "m", "type": "quantitative", "title": null}}},
  {"data": {"name": "o2018"}, "mark": {"type": "line", "strokeWidth": 2.5, "clip": true}, "encoding": {"x": {"field": "d", "type": "quantitative", "title": null}, "y": {"field": "t", "type": "quantitative", "title": null}, "color": {"datum": "PMM-LB", "type": "nominal", "scale": {"domain": ["PMM-LB"], "range": ["#E8791D"]}, "legend": {"title": null, "orient": "none", "legendX": 456, "legendY": 1593}}}},
  {"data": {"values": [{"lab": "2018"}]}, "mark": {"type": "text", "font": "Liberation Sans", "fontSize": 22, "fontWeight": "bold", "align": "left", "baseline": "alphabetic", "color": "#000"}, "encoding": {"x": {"datum": 3.8, "type": "quantitative"}, "y": {"datum": 17.4, "type": "quantitative"}, "text": {"field": "lab"}}}
 ]},
{"width": 1041, "height": 293,
 "layer": [
  {"data": {"name": "clim"}, "mark": {"type": "area", "color": "#C8C8C8", "clip": true}, "encoding": {"x": {"field": "d", "type": "quantitative", "title": null, "scale": {"domain": [0, 362.5], "nice": false, "zero": false}, "axis": {"values": [0,31,59,90,120,151,181,212,243,273,304,334], "labels": false, "ticks": false}}, "y": {"field": "hi", "type": "quantitative", "title": null, "scale": {"domain": [-0.95, 20], "nice": false, "zero": false}, "axis": {"values": [0,5,10,15,20]}}, "y2": {"field": "lo"}}},
  {"data": {"name": "clim"}, "mark": {"type": "line", "color": "#FFFFFF", "strokeWidth": 2, "clip": true}, "encoding": {"x": {"field": "d", "type": "quantitative", "title": null}, "y": {"field": "m", "type": "quantitative", "title": null}}},
  {"data": {"name": "o2019"}, "mark": {"type": "line", "strokeWidth": 2.5, "clip": true}, "encoding": {"x": {"field": "d", "type": "quantitative", "title": null}, "y": {"field": "t", "type": "quantitative", "title": null}, "color": {"datum": "PMM-LB", "type": "nominal", "scale": {"domain": ["PMM-LB"], "range": ["#E8791D"]}, "legend": {"title": null, "orient": "none", "legendX": 456, "legendY": 1593}}}},
  {"data": {"values": [{"lab": "2019"}]}, "mark": {"type": "text", "font": "Liberation Sans", "fontSize": 22, "fontWeight": "bold", "align": "left", "baseline": "alphabetic", "color": "#000"}, "encoding": {"x": {"datum": 3.8, "type": "quantitative"}, "y": {"datum": 17.4, "type": "quantitative"}, "text": {"field": "lab"}}}
 ]},
{"width": 1041, "height": 293,
 "layer": [
  {"data": {"name": "clim"}, "mark": {"type": "area", "color": "#C8C8C8", "clip": true}, "encoding": {"x": {"field": "d", "type": "quantitative", "title": null, "scale": {"domain": [0, 362.5], "nice": false, "zero": false}, "axis": {"values": [0,31,59,90,120,151,181,212,243,273,304,334], "labels": false, "ticks": false}}, "y": {"field": "hi", "type": "quantitative", "title": null, "scale": {"domain": [-0.95, 20], "nice": false, "zero": false}, "axis": {"values": [0,5,10,15,20]}}, "y2": {"field": "lo"}}},
  {"data": {"name": "clim"}, "mark": {"type": "line", "color": "#FFFFFF", "strokeWidth": 2, "clip": true}, "encoding": {"x": {"field": "d", "type": "quantitative", "title": null}, "y": {"field": "m", "type": "quantitative", "title": null}}},
  {"data": {"name": "o2020"}, "mark": {"type": "line", "strokeWidth": 2.5, "clip": true}, "encoding": {"x": {"field": "d", "type": "quantitative", "title": null}, "y": {"field": "t", "type": "quantitative", "title": null}, "color": {"datum": "PMM-LB", "type": "nominal", "scale": {"domain": ["PMM-LB"], "range": ["#E8791D"]}, "legend": {"title": null, "orient": "none", "legendX": 456, "legendY": 1593}}}},
  {"data": {"values": [{"lab": "2020"}]}, "mark": {"type": "text", "font": "Liberation Sans", "fontSize": 22, "fontWeight": "bold", "align": "left", "baseline": "alphabetic", "color": "#000"}, "encoding": {"x": {"datum": 3.8, "type": "quantitative"}, "y": {"datum": 17.4, "type": "quantitative"}, "text": {"field": "lab"}}}
 ]},
{"width": 1041, "height": 293,
 "layer": [
  {"data": {"name": "clim"}, "mark": {"type": "area", "color": "#C8C8C8", "clip": true}, "encoding": {"x": {"field": "d", "type": "quantitative", "title": null, "scale": {"domain": [0, 362.5], "nice": false, "zero": false}, "axis": {"values": [0,31,59,90,120,151,181,212,243,273,304,334], "labels": true, "ticks": true, "labelExpr": "['Jan','Feb','Mar','Apr','May','Jun','Jul','Aug','Sep','Oct','Nov','Dec'][indexof([0,31,59,90,120,151,181,212,243,273,304,334], datum.value)]"}}, "y": {"field": "hi", "type": "quantitative", "title": null, "scale": {"domain": [-0.95, 20], "nice": false, "zero": false}, "axis": {"values": [0,5,10,15,20]}}, "y2": {"field": "lo"}}},
  {"data": {"name": "clim"}, "mark": {"type": "line", "color": "#FFFFFF", "strokeWidth": 2, "clip": true}, "encoding": {"x": {"field": "d", "type": "quantitative", "title": null}, "y": {"field": "m", "type": "quantitative", "title": null}}},
  {"data": {"name": "o2021"}, "mark": {"type": "line", "strokeWidth": 2.5, "clip": true}, "encoding": {"x": {"field": "d", "type": "quantitative", "title": null}, "y": {"field": "t", "type": "quantitative", "title": null}, "color": {"datum": "PMM-LB", "type": "nominal", "scale": {"domain": ["PMM-LB"], "range": ["#E8791D"]}, "legend": {"title": null, "orient": "none", "legendX": 456, "legendY": 1593}}}},
  {"data": {"values": [{"lab": "2021"}]}, "mark": {"type": "text", "font": "Liberation Sans", "fontSize": 22, "fontWeight": "bold", "align": "left", "baseline": "alphabetic", "color": "#000"}, "encoding": {"x": {"datum": 3.8, "type": "quantitative"}, "y": {"datum": 17.4, "type": "quantitative"}, "text": {"field": "lab"}}}
 ]}
],
"config": {
 "font": "Liberation Sans",
 "view": {"stroke": "#C8C8C8", "strokeWidth": 2},
 "axis": {"labelFont": "Liberation Sans", "labelFontSize": 20, "labelColor": "#000", "domain": false, "gridColor": "#C8C8C8", "tickColor": "#C8C8C8", "labelFlush": false},
 "axisX": {"gridWidth": 1.5, "tickSize": 7, "tickWidth": 1.5, "labelPadding": 6, "labelFontSize": 20},
 "axisY": {"gridDash": [5, 4], "gridWidth": 1.3, "tickDash": [5, 4], "tickSize": 9, "tickWidth": 1.3, "labelPadding": 5},
 "legend": {"symbolType": "stroke", "symbolStrokeWidth": 3, "symbolSize": 2400, "labelFont": "Liberation Sans", "labelFontSize": 18, "labelColor": "#333", "labelOffset": 22}
}
}
